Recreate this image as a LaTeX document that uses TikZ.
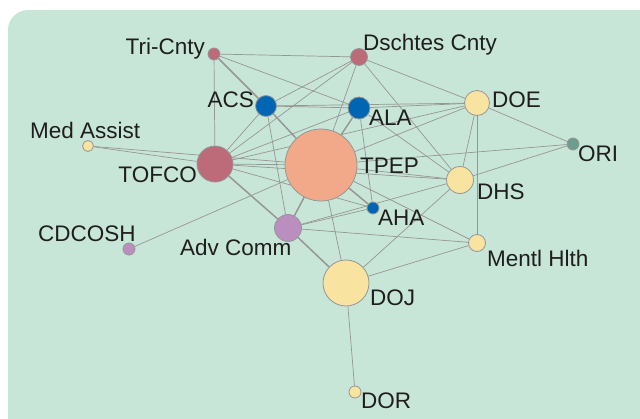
\documentclass[tikz,border=0pt]{standalone}
\usepackage{fontspec}
\setmainfont{Liberation Sans}
\pgfdeclarelayer{bg}
\pgfdeclarelayer{edges}
\pgfsetlayers{bg,edges,main}
\definecolor{bgc}{RGB}{200,230,215}
\definecolor{salmon}{RGB}{242,169,138}
\definecolor{mauve}{RGB}{189,107,120}
\definecolor{blu}{RGB}{0,102,179}
\definecolor{yel}{RGB}{249,227,160}
\definecolor{teal}{RGB}{107,158,143}
\definecolor{purp}{RGB}{186,142,191}
\definecolor{edgec}{RGB}{150,150,150}
\definecolor{txt}{RGB}{30,30,30}
\begin{document}
\begin{tikzpicture}[x=1pt,y=-1pt,
  vtx/.style={circle,draw=edgec,line width=0.8pt,inner sep=0pt,minimum size=#1},
  lab/.style={font=\fontsize{22.5}{25}\selectfont,text=txt,inner sep=0pt},
  ed/.style={draw=edgec,line width=0.7pt},
  edt/.style={draw=edgec,line width=1.5pt}]
\useasboundingbox (0,0) rectangle (640,418);
\begin{pgfonlayer}{bg}
\fill[bgc,rounded corners=20pt] (8,10) rectangle (660,440);
\end{pgfonlayer}
% nodes
\node[vtx=12pt,fill=mauve] (tri) at (214,54) {};
\node[vtx=17pt,fill=mauve] (dsch) at (359,57) {};
\node[vtx=21pt,fill=blu] (acs) at (266,106) {};
\node[vtx=22pt,fill=blu] (ala) at (359,108) {};
\node[vtx=25pt,fill=yel] (doe) at (477,103) {};
\node[vtx=11pt,fill=yel] (med) at (88,146) {};
\node[vtx=36pt,fill=mauve] (tofco) at (215,164) {};
\node[vtx=72pt,fill=salmon] (tpep) at (321,165) {};
\node[vtx=12pt,fill=teal] (ori) at (573,144) {};
\node[vtx=27pt,fill=yel] (dhs) at (460,180) {};
\node[vtx=12pt,fill=blu] (aha) at (373,208) {};
\node[vtx=12pt,fill=purp] (cdc) at (129,249) {};
\node[vtx=27pt,fill=purp] (adv) at (288,228) {};
\node[vtx=17pt,fill=yel] (men) at (477,243) {};
\node[vtx=46pt,fill=yel] (doj) at (346,283) {};
\node[vtx=12pt,fill=yel] (dor) at (355,392) {};
% labels
\node[lab,anchor=base east] (ltri) at (205,54) {Tri-Cnty};
\node[lab,anchor=base west] (ldsch) at (363,50) {Dschtes Cnty};
\node[lab,anchor=base east] (lacs) at (254,107) {ACS};
\node[lab,anchor=base west] (lala) at (369,125) {ALA};
\node[lab,anchor=base west] (ldoe) at (492,107) {DOE};
\node[lab,anchor=base west] (lmed) at (30,138) {Med Assist};
\node[lab,anchor=base east] (ltofco) at (197,182) {TOFCO};
\node[lab,anchor=base west] (ltpep) at (360,173) {TPEP};
\node[lab,anchor=base west] (lori) at (578,161) {ORI};
\node[lab,anchor=base west] (ldhs) at (477,199) {DHS};
\node[lab,anchor=base west] (laha) at (378,225) {AHA};
\node[lab,anchor=base west] (lcdc) at (38,241) {CDCOSH};
\node[lab,anchor=base west] (ladv) at (180,255) {Adv Comm};
\node[lab,anchor=base west] (lmen) at (487,266) {Mentl Hlth};
\node[lab,anchor=base west] (ldoj) at (370,305) {DOJ};
\node[lab,anchor=base west] (ldor) at (361,408) {DOR};
% edges
\begin{pgfonlayer}{edges}
\draw[ed] (tri) -- (dsch);
\draw[ed] (tri) -- (tofco);
\draw[ed] (tri) -- (ala);
\draw[ed] (dsch) -- (acs);
\draw[ed] (dsch) -- (tofco);
\draw[ed] (dsch) -- (tpep);
\draw[ed] (dsch) -- (doe);
\draw[ed] (dsch) -- (dhs);
\draw[ed] (acs) -- (ala);
\draw[ed] (acs) -- (doe);
\draw[ed] (acs) -- (tofco);
\draw[ed] (acs) -- (adv);
\draw[ed] (ala) -- (doe);
\draw[ed] (ala) -- (dhs);
\draw[ed] (ala) -- (aha);
\draw[ed] (ala) -- (tofco);
\draw[ed] (doe) -- (tpep);
\draw[ed] (doe) -- (dhs);
\draw[ed] (doe) -- (ori);
\draw[ed] (doe) -- (men);
\draw[ed] (doe) -- (tofco);
\draw[ed] (tpep) -- (ori);
\draw[ed] (tpep) -- (dhs);
\draw[ed] (tpep) -- (men);
\draw[ed] (tpep) -- (doj);
\draw[ed] (tpep) -- (tofco);
\draw[ed] (tpep) -- (med);
\draw[ed] (tpep) -- (cdc);
\draw[ed] (ori) -- (dhs);
\draw[ed] (dhs) -- (adv);
\draw[ed] (dhs) -- (doj);
\draw[ed] (dhs) -- (tofco);
\draw[ed] (aha) -- (adv);
\draw[ed] (aha) -- (tofco);
\draw[ed] (adv) -- (men);
\draw[ed] (doj) -- (men);
\draw[ed] (doj) -- (dor);
\draw[ed] (med) -- (tofco);
\draw[edt] (tri) -- (acs);
\draw[edt] (acs) -- (tpep);
\draw[edt] (ala) -- (tpep);
\draw[edt] (tpep) -- (aha);
\draw[edt] (tpep) -- (adv);
\draw[edt] (tofco) -- (adv);
\draw[edt] (adv) -- (doj);
\end{pgfonlayer}
\end{tikzpicture}
\end{document}
